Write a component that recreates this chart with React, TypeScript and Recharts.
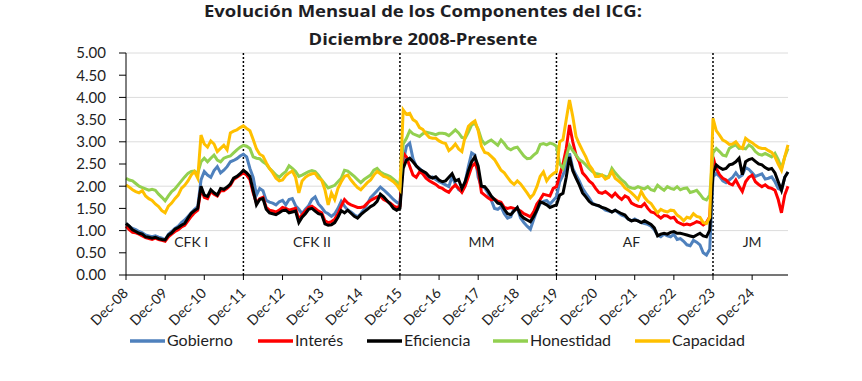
import { CartesianGrid, Line, LineChart, ReferenceDot, ReferenceLine, XAxis, YAxis } from "recharts";

// monthly values, Dec-08 .. Nov-25
const gobierno = [
  1.16, 1.1, 1.05, 1.02, 0.98, 0.95, 0.9, 0.88, 0.86, 0.88, 0.85, 0.83, 0.79, 0.92, 0.98, 1.05, 1.1, 1.18, 1.24, 1.32, 1.4, 1.48, 1.54, 2.14, 2.33, 2.25, 2.2, 2.35, 2.44, 2.3, 2.36, 2.44, 2.55,
  2.58, 2.62, 2.68, 2.72, 2.66, 2.4, 2.2, 1.8, 1.95, 1.9, 1.68, 1.64, 1.62, 1.58, 1.65, 1.68, 1.58, 1.7, 1.72, 1.56, 1.48, 1.38, 1.48, 1.56, 1.7, 1.76, 1.6, 1.52, 1.42, 1.38, 1.32, 1.38, 1.5, 1.66,
  1.55, 1.46, 1.42, 1.36, 1.31, 1.38, 1.48, 1.6, 1.74, 1.82, 1.9, 1.98, 1.92, 1.85, 1.78, 1.7, 1.64, 1.6, 2.55, 2.9, 2.97, 2.62, 2.45, 2.4, 2.33, 2.28, 2.18, 2.21, 2.15, 2.1, 2.07, 2.03, 1.99, 2.22, 2.05,
  1.92, 1.88, 2.1, 2.45, 2.75, 2.7, 2.2, 1.99, 1.96, 1.85, 1.69, 1.5, 1.48, 1.54, 1.38, 1.28, 1.31, 1.5, 1.5, 1.28, 1.18, 1.1, 1.03, 1.25, 1.45, 1.61, 1.66, 1.68, 1.6, 1.68, 1.76, 2.1, 2.25, 2.45,
  2.74, 2.4, 2.25, 2.12, 1.95, 1.84, 1.74, 1.62, 1.58, 1.55, 1.52, 1.46, 1.44, 1.42, 1.46, 1.4, 1.35, 1.32, 1.26, 1.22, 1.26, 1.22, 1.18, 1.16, 1.14, 1.1, 1.02, 0.9, 0.86, 0.92, 0.88, 0.86, 0.92,
  0.8, 0.82, 0.76, 0.68, 0.66, 0.78, 0.74, 0.68, 0.5, 0.45, 0.58, 2.21, 2.29, 2.22, 2.12, 2.08, 2.14, 2.2, 2.3, 2.2, 2.25, 2.42, 2.38, 2.3, 2.22, 2.25, 2.28, 2.16, 2.18, 2.21, 2.1, 1.95, 1.91, 2.2, 2.32,
];

const interes = [
  1.1, 1.02, 0.96, 0.95, 0.92, 0.88, 0.84, 0.82, 0.8, 0.83, 0.8, 0.78, 0.76, 0.86, 0.92, 0.98, 1.02, 1.08, 1.12, 1.22, 1.32, 1.4, 1.46, 1.95, 1.75, 1.72, 1.88, 1.82, 1.78, 1.9, 1.9, 1.95, 2.02,
  2.15, 2.2, 2.25, 2.3, 2.25, 2.15, 1.85, 1.62, 1.72, 1.75, 1.52, 1.46, 1.44, 1.42, 1.46, 1.52, 1.5, 1.46, 1.48, 1.5, 1.25, 1.36, 1.44, 1.52, 1.55, 1.5, 1.44, 1.4, 1.22, 1.18, 1.2, 1.26, 1.38, 1.55,
  1.7, 1.62, 1.58, 1.55, 1.52, 1.52, 1.54, 1.62, 1.68, 1.72, 1.76, 1.78, 1.7, 1.66, 1.62, 1.56, 1.52, 1.55, 2.75, 2.66, 2.45, 2.25, 2.2, 2.32, 2.28, 2.18, 2.12, 2.08, 2.04, 1.98, 1.95, 1.9, 1.86, 1.96, 2.03,
  1.95, 1.86, 2.0, 2.22, 2.44, 2.52, 2.35, 1.86, 1.8, 1.74, 1.69, 1.71, 1.66, 1.64, 1.52, 1.5, 1.52, 1.5, 1.48, 1.44, 1.38, 1.35, 1.31, 1.42, 1.6, 1.7, 1.82, 1.8, 1.78, 1.95, 1.99, 2.25, 2.5, 2.85,
  3.38, 3.0, 2.7, 2.55, 2.3, 2.22, 2.12, 2.06, 1.95, 1.86, 1.84, 1.88, 1.82, 1.76, 1.84, 1.76, 1.7, 1.78, 1.74, 1.62, 1.58, 1.55, 1.54, 1.61, 1.5, 1.42, 1.4, 1.34, 1.28, 1.34, 1.33, 1.28, 1.3,
  1.2, 1.16, 1.13, 1.15, 1.13, 1.16, 1.2, 1.18, 1.13, 1.18, 1.31, 2.66, 2.4, 2.26, 2.18, 2.14, 2.06, 2.03, 2.14, 2.0, 1.88, 2.1, 2.2, 2.25, 2.1, 2.04, 1.99, 2.03, 1.97, 1.95, 1.91, 1.7, 1.4, 1.8, 2.0,
];

const eficiencia = [
  1.16, 1.1, 1.02, 0.98, 0.94, 0.92, 0.86, 0.85, 0.83, 0.85, 0.82, 0.8, 0.79, 0.9, 0.95, 1.03, 1.07, 1.12, 1.16, 1.28, 1.39, 1.45, 1.5, 2.0, 1.8, 1.77, 1.92, 1.85, 1.8, 1.95, 1.93, 1.98, 2.05,
  2.18, 2.22, 2.28, 2.36, 2.3, 2.22, 1.9, 1.58, 1.7, 1.72, 1.48, 1.4, 1.38, 1.36, 1.4, 1.45, 1.46, 1.4, 1.42, 1.44, 1.18, 1.3, 1.38, 1.48, 1.5, 1.44, 1.38, 1.36, 1.15, 1.12, 1.13, 1.18, 1.3, 1.45,
  1.4, 1.46, 1.39, 1.32, 1.28, 1.36, 1.42, 1.48, 1.54, 1.58, 1.66, 1.82, 1.76, 1.68, 1.6, 1.5, 1.46, 1.5, 2.4, 2.59, 2.63, 2.55, 2.46, 2.38, 2.34, 2.3, 2.22, 2.18, 2.21, 2.14, 2.1, 2.12, 2.2, 2.28, 2.12,
  2.15, 1.95, 2.1, 2.35, 2.55, 2.66, 2.45, 2.0, 1.99, 1.9, 1.78, 1.7, 1.62, 1.6, 1.48, 1.38, 1.36, 1.44, 1.52, 1.35, 1.28, 1.24, 1.2, 1.32, 1.46, 1.65, 1.62, 1.58, 1.52, 1.55, 1.58, 1.8, 1.84, 2.2,
  2.66, 2.35, 2.18, 2.03, 1.85, 1.76, 1.66, 1.6, 1.58, 1.56, 1.52, 1.5, 1.46, 1.42, 1.46, 1.42, 1.38, 1.35, 1.26, 1.22, 1.24, 1.22, 1.18, 1.22, 1.18, 1.14, 1.06, 0.88, 0.92, 0.94, 0.92, 0.96, 0.98,
  0.94, 0.94, 0.92, 0.9, 0.88, 0.86, 0.9, 0.94, 0.88, 0.86, 1.01, 2.29, 2.48, 2.42, 2.38, 2.4, 2.48, 2.5, 2.55, 2.63, 2.26, 2.55, 2.6, 2.62, 2.56, 2.5, 2.48, 2.42, 2.38, 2.4, 2.3, 2.1, 1.91, 2.2, 2.32,
];

const honestidad = [
  2.18, 2.14, 2.12, 2.06, 2.0, 1.97, 1.94, 1.91, 1.93, 1.91, 1.82, 1.75, 1.67, 1.78, 1.88, 1.94, 2.03, 2.12, 2.21, 2.29, 2.33, 2.34, 2.29, 2.55, 2.63, 2.55, 2.63, 2.7, 2.59, 2.55, 2.63, 2.66, 2.68,
  2.75, 2.82, 2.88, 2.92, 2.9, 2.85, 2.66, 2.63, 2.62, 2.55, 2.5, 2.4, 2.33, 2.25, 2.2, 2.27, 2.33, 2.46, 2.4, 2.33, 2.22, 2.25, 2.29, 2.33, 2.35, 2.33, 2.25, 2.14, 2.05, 1.96, 1.99, 2.02, 2.1, 2.18,
  2.36, 2.34, 2.28, 2.22, 2.15, 2.08, 2.15, 2.2, 2.25, 2.36, 2.4, 2.32, 2.28, 2.25, 2.22, 2.16, 2.1, 2.03, 2.95, 3.08, 3.25, 3.18, 3.15, 3.12, 3.18, 3.22, 3.2, 3.18, 3.16, 3.19, 3.19, 3.18, 3.14, 3.2, 3.27,
  3.2, 3.1, 3.08, 3.22, 3.38, 3.42, 3.28, 3.05, 2.95, 3.0, 3.04, 2.98, 2.92, 3.04, 2.96, 2.86, 2.82, 2.86, 2.88, 2.78, 2.68, 2.62, 2.63, 2.7, 2.76, 2.94, 2.96, 2.93, 2.97, 2.95, 2.9, 2.5, 2.4, 2.66,
  2.92, 2.8, 2.7, 2.6, 2.55, 2.48, 2.4, 2.33, 2.29, 2.27, 2.25, 2.22, 2.21, 2.4, 2.3, 2.22, 2.14, 2.08, 1.99, 1.96, 1.95, 1.99, 1.96, 1.94, 1.99, 1.92, 1.9, 2.02, 1.96, 1.91, 1.99, 1.95, 1.93,
  1.99, 1.92, 1.95, 1.96, 1.86, 1.88, 1.91, 1.82, 1.72, 1.69, 1.8, 2.75, 2.85, 2.78, 2.7, 2.68, 2.85, 2.9, 2.93, 2.85, 2.86, 2.84, 2.93, 2.88, 2.78, 2.72, 2.7, 2.74, 2.7, 2.66, 2.74, 2.6, 2.4, 2.66, 2.85,
];

const capacidad = [
  2.03, 1.98, 1.92, 1.88, 1.85, 1.9, 1.78, 1.72, 1.68, 1.6, 1.54, 1.45, 1.4, 1.55, 1.62, 1.72, 1.8, 1.95, 2.02, 2.12, 2.25, 2.33, 2.18, 3.15, 2.95, 2.88, 3.02, 2.95, 2.78, 2.85, 2.92, 2.82, 3.2,
  3.24, 3.27, 3.32, 3.36, 3.3, 3.25, 3.05, 2.84, 2.72, 2.68, 2.53, 2.4, 2.3, 2.18, 2.12, 2.14, 2.24, 2.3, 2.34, 2.2, 1.85, 2.12, 2.2, 2.25, 2.28, 2.29, 2.18, 2.14, 1.92, 1.58, 1.85, 1.7, 1.95, 2.1,
  2.22, 2.25, 2.14, 2.05, 1.97, 1.92, 2.0, 2.08, 2.14, 2.25, 2.33, 2.28, 2.22, 2.2, 2.15, 2.1, 2.03, 1.92, 3.72, 3.62, 3.64, 3.5, 3.45, 3.32, 3.28, 3.18, 3.1, 3.08, 3.08, 3.02, 2.98, 2.96, 2.8, 2.86, 2.95,
  2.84, 2.78, 3.12, 3.35, 3.42, 3.47, 3.25, 2.9, 2.76, 2.74, 2.67, 2.6, 2.48, 2.36, 2.3, 2.2, 2.1, 2.04, 2.12, 2.05, 1.95, 1.85, 1.74, 1.82, 1.99, 2.22, 2.32, 2.12, 2.22, 2.28, 2.33, 3.0, 3.05, 3.5,
  3.94, 3.57, 3.12, 2.95, 2.8, 2.66, 2.48, 2.38, 2.22, 2.22, 2.25, 2.16, 2.2, 2.33, 2.18, 2.12, 2.06, 1.96, 1.91, 1.85, 1.78, 1.7, 1.88, 1.75, 1.66, 1.61, 1.5, 1.4, 1.48, 1.44, 1.42, 1.46, 1.45,
  1.35, 1.3, 1.22, 1.3, 1.28, 1.38, 1.32, 1.3, 1.18, 1.16, 1.3, 3.53, 3.25, 3.15, 3.04, 3.0, 2.94, 2.95, 3.0, 2.9, 2.85, 3.08, 3.02, 2.98, 2.92, 2.87, 2.85, 2.85, 2.8, 2.76, 2.66, 2.5, 2.36, 2.66, 2.93,
];

const xTickLabels = [
  "Dec-08", "Dec-09", "Dec-10", "Dec-11", "Dec-12", "Dec-13", "Dec-14", "Dec-15", "Dec-16",
  "Dec-17", "Dec-18", "Dec-19", "Dec-20", "Dec-21", "Dec-22", "Dec-23", "Dec-24",
];
const yTicks = [0, 0.5, 1, 1.5, 2, 2.5, 3, 3.5, 4, 4.5, 5];

// month index where each government starts (dotted lines)
const terms = [36, 84, 132, 180];
const periodNames = ["CFK I", "CFK II", "MM", "AF", "JM"];
const periodCenters = [20, 57, 109, 155, 192];

const seriesNames = ["Gobierno", "Interés", "Eficiencia", "Honestidad", "Capacidad"];
const seriesKeys = ["gobierno", "interes", "eficiencia", "honestidad", "capacidad"];
const seriesColors = ["#4F81BD", "#FF0000", "#000000", "#92D050", "#FFC000"];
const legendX = [130, 258, 367, 493, 635];

const rows = gobierno.map((v, i) => ({
  i,
  gobierno: v,
  interes: interes[i],
  eficiencia: eficiencia[i],
  honestidad: honestidad[i],
  capacidad: capacidad[i],
}));

const textColor = "#1e1e24";
const font = "Lato, 'Open Sans', sans-serif";
const titleFont = "'Open Sans', Lato, sans-serif";

const XTick = ({ x, y, payload }: any) => (
  <text
    transform={`translate(${x + 3},${y + 12}) rotate(-45)`}
    textAnchor="end"
    fontSize={14}
    fill={textColor}
    fontFamily={font}
  >
    {xTickLabels[Math.round(payload.value / 12)]}
  </text>
);

export default function App() {
  return (
    <div style={{ position: "absolute", left: 0, top: 0, width: 862, height: 381, background: "#fff" }}>
      <LineChart width={862} height={381} data={rows} margin={{ top: 53, right: 74, bottom: 76, left: 0 }}>
        <CartesianGrid vertical={false} stroke="#DCDCDC" />
        <XAxis
          dataKey="i"
          type="number"
          domain={[0, 203]}
          ticks={xTickLabels.map((_, k) => k * 12)}
          interval={0}
          height={30}
          tick={<XTick />}
          tickSize={5}
          axisLine={{ stroke: "#000" }}
          tickLine={{ stroke: "#000" }}
        />
        <YAxis
          domain={[0, 5]}
          ticks={yTicks}
          width={126}
          tickFormatter={(v: number) => v.toFixed(2)}
          tick={{ fontSize: 15, fill: textColor, fontFamily: font }}
          tickSize={7}
          tickMargin={13}
          axisLine={{ stroke: "#000" }}
          tickLine={{ stroke: "#000" }}
        />
        {terms.map((t) => (
          <ReferenceLine key={t} x={t} stroke="#000" strokeWidth={1.5} strokeDasharray="2 2" />
        ))}
        {seriesKeys.map((k, n) => (
          <Line
            key={k}
            type="linear"
            dataKey={k}
            stroke={seriesColors[n]}
            strokeWidth={3}
            dot={false}
            isAnimationActive={false}
          />
        ))}
        {periodNames.map((name, n) => (
          <ReferenceDot
            key={name}
            x={periodCenters[n]}
            y={0.74}
            r={0}
            shape={(p: any) => (
              <text x={p.cx} y={p.cy} dy="0.35em" textAnchor="middle" fontSize={14} fill={textColor} fontFamily={font}>
                {name}
              </text>
            )}
          />
        ))}
      </LineChart>
      <svg width={862} height={381} style={{ position: "absolute", left: 0, top: 0, pointerEvents: "none" }}>
        <text x={423} y={17} textAnchor="middle" fontSize={16} fontWeight={700} fill={textColor} fontFamily={titleFont} textLength={438} lengthAdjust="spacingAndGlyphs">
          Evolución Mensual de los Componentes del ICG:
        </text>
        <text x={423} y={45} textAnchor="middle" fontSize={16} fontWeight={700} fill={textColor} fontFamily={titleFont} textLength={229} lengthAdjust="spacingAndGlyphs">
          Diciembre 2008-Presente
        </text>
        {seriesNames.map((name, n) => (
          <g key={name}>
            <line x1={legendX[n]} x2={legendX[n] + 35} y1={341} y2={341} stroke={seriesColors[n]} strokeWidth={3.5} />
            <text x={legendX[n] + 37} y={346} fontSize={16} fill={textColor} fontFamily={font}>
              {name}
            </text>
          </g>
        ))}
      </svg>
    </div>
  );
}
